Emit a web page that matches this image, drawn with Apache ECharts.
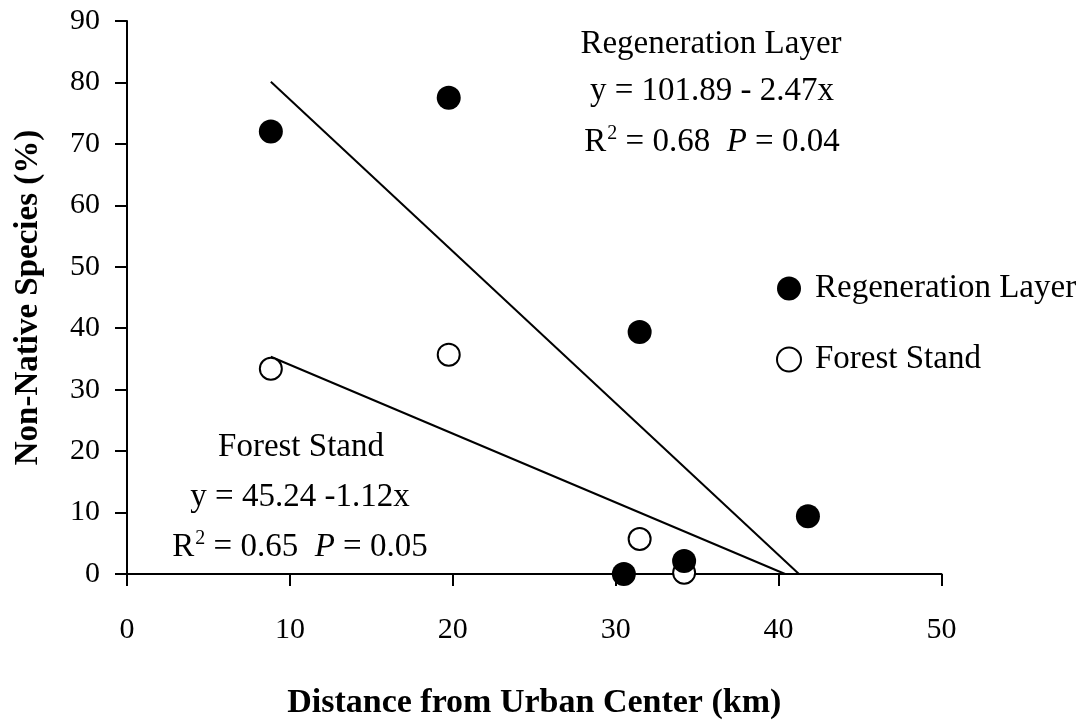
<!DOCTYPE html>
<html>
<head>
<meta charset="utf-8">
<script src="https://cdn.jsdelivr.net/npm/echarts@6/dist/echarts.min.js"></script>
<style>
html,body{margin:0;padding:0;background:#fff;}
#chart{width:1083px;height:725px;}
</style>
</head>
<body>
<div id="chart"></div>
<script>
// Data
const regenerationLayer = [[8.83, 72.0], [19.75, 77.5], [31.47, 39.4], [41.8, 9.4], [34.2, 2.1], [30.5, 0.0]];
const forestStand = [[8.83, 33.4], [19.75, 35.7], [31.47, 5.7], [34.2, 0.2]];
const regenerationFit = [[8.83, 80.1], [41.25, 0]];
const forestFit = [[8.83, 35.35], [40.4, 0]];
const xTicks = [0, 10, 20, 30, 40, 50];
const yTicks = [0, 10, 20, 30, 40, 50, 60, 70, 80, 90];

const FONT = "'Liberation Serif', 'Times New Roman', serif";
const chart = echarts.init(document.getElementById('chart'));

const rich = {
  n: {fontFamily: FONT, fontSize: 33, color: '#000'},
  sup: {fontFamily: FONT, fontSize: 20, color: '#000', verticalAlign: 'top', padding: [0, 0, 16, 1]},
  it: {fontFamily: FONT, fontSize: 33, fontStyle: 'italic', color: '#000'}
};

function txt(x, y, text) {
  return {
    type: 'text', x: x, y: y, z: 10,
    style: {text: text, rich: rich, font: '33px ' + FONT, fill: '#000', align: 'center', verticalAlign: 'middle'}
  };
}

chart.setOption({
  backgroundColor: '#fff',
  animation: false,
  grid: {left: 127, right: 141.5, top: 21, bottom: 151, containLabel: false},
  xAxis: {
    type: 'value', min: xTicks[0], max: xTicks[xTicks.length - 1], interval: 10,
    name: 'Distance from Urban Center (km)', nameLocation: 'middle', nameGap: 112,
    nameTextStyle: {fontFamily: FONT, fontSize: 34, fontWeight: 'bold', color: '#000'},
    axisLine: {show: true, onZero: false, lineStyle: {color: '#000', width: 2}},
    axisTick: {show: true, inside: false, length: 12, lineStyle: {color: '#000', width: 2}},
    axisLabel: {fontFamily: FONT, fontSize: 30, color: '#000', margin: 41},
    splitLine: {show: false}
  },
  yAxis: {
    type: 'value', min: yTicks[0], max: yTicks[yTicks.length - 1], interval: 10,
    name: 'Non-Native Species (%)', nameLocation: 'middle', nameGap: 82, nameRotate: 90,
    nameTextStyle: {fontFamily: FONT, fontSize: 33, fontWeight: 'bold', color: '#000'},
    axisLine: {show: true, onZero: false, lineStyle: {color: '#000', width: 2}},
    axisTick: {show: true, inside: false, length: 12, lineStyle: {color: '#000', width: 2}},
    axisLabel: {fontFamily: FONT, fontSize: 30, color: '#000', margin: 27},
    splitLine: {show: false}
  },
  legend: {
    orient: 'vertical', left: 771, top: 267, itemGap: 38,
    itemWidth: 24, itemHeight: 24, icon: 'circle',
    textStyle: {fontFamily: FONT, fontSize: 33, color: '#000', padding: [0, 0, 0, 9]},
    data: ['Regeneration Layer', 'Forest Stand']
  },
  series: [
    {
      name: 'RegFit', type: 'line', data: regenerationFit, symbol: 'none', z: 1,
      lineStyle: {color: '#000', width: 2}, silent: true
    },
    {
      name: 'ForFit', type: 'line', data: forestFit, symbol: 'none', z: 1,
      lineStyle: {color: '#000', width: 2}, silent: true
    },
    {
      name: 'Forest Stand', type: 'scatter', data: forestStand, symbol: 'circle', symbolSize: 22, z: 3,
      itemStyle: {color: '#fff', borderColor: '#000', borderWidth: 2, opacity: 1}
    },
    {
      name: 'Regeneration Layer', type: 'scatter', data: regenerationLayer, symbol: 'circle', symbolSize: 24, z: 4,
      itemStyle: {color: '#000', opacity: 1}
    }
  ],
  graphic: [
    txt(711, 44, '{n|Regeneration Layer}'),
    txt(712, 91, '{n|y = 101.89 - 2.47x}'),
    txt(712, 142, '{n|R}{sup|2}{n| = 0.68  }{it|P}{n| = 0.04}'),
    txt(301, 447, '{n|Forest Stand}'),
    txt(300, 497, '{n|y = 45.24 -1.12x}'),
    txt(300, 547, '{n|R}{sup|2}{n| = 0.65  }{it|P}{n| = 0.05}')
  ]
});
</script>
</body>
</html>
